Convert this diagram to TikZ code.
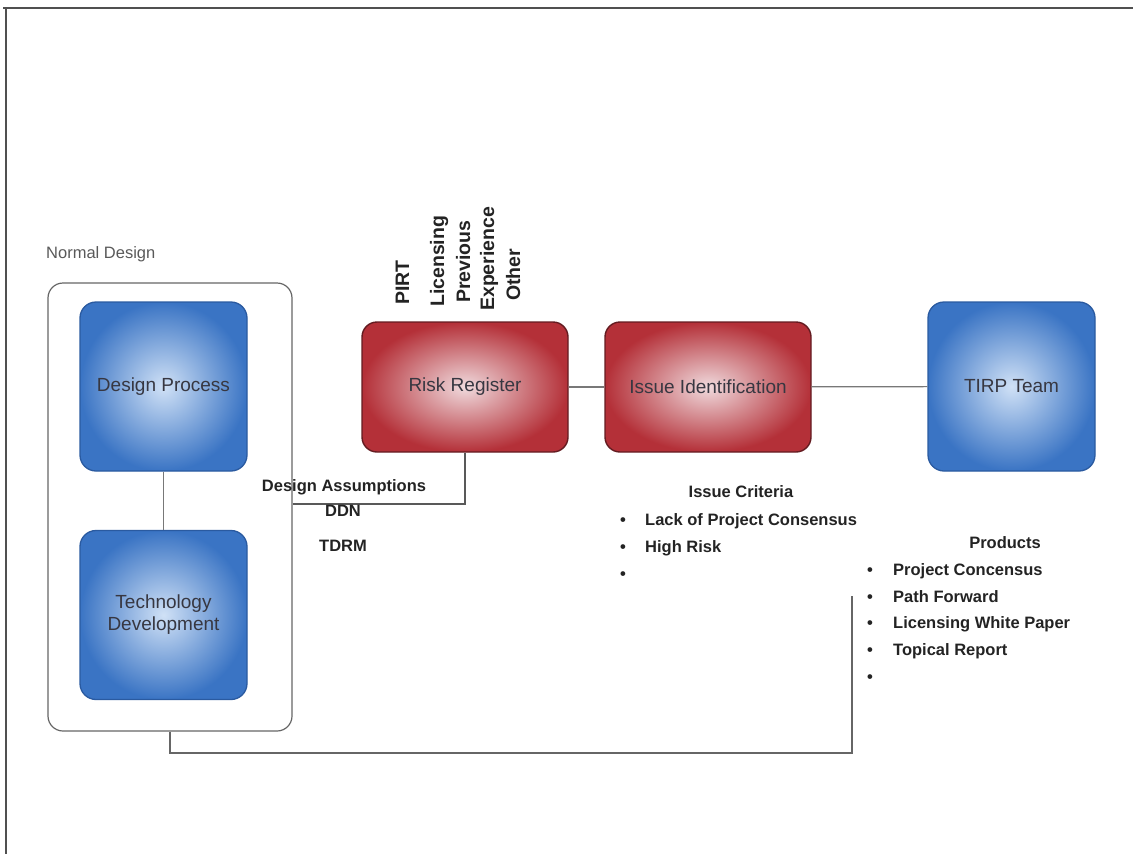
\documentclass[tikz,border=0pt]{standalone}
\usepackage{fontspec}
\setmainfont{Liberation Sans}
\definecolor{bluedge}{RGB}{58,116,196}
\definecolor{bluein}{RGB}{208,225,246}
\definecolor{blueline}{RGB}{42,90,160}
\definecolor{rededge}{RGB}{180,48,56}
\definecolor{redin}{RGB}{240,218,221}
\definecolor{redline}{RGB}{100,28,33}
\definecolor{conn}{RGB}{120,120,120}
\definecolor{frame}{RGB}{80,80,80}
\definecolor{boxtext}{RGB}{55,55,65}
\definecolor{anntext}{RGB}{35,35,35}
\newcommand{\boxfont}{\fontsize{19}{22}\selectfont}
\newcommand{\annfont}{\fontsize{16.5}{20}\selectfont\bfseries}
\newcommand{\rotfont}{\fontsize{19.5}{22}\selectfont\bfseries}
\begin{document}
\begin{tikzpicture}[x=1pt,y=-1pt,
  bluebox/.style={shade, inner color=bluein, outer color=bluedge, draw=blueline, line width=1.3pt,
    rounded corners=16pt, minimum width=167pt, minimum height=169pt, inner sep=0pt,
    font=\boxfont, text=boxtext, align=center},
  redbox/.style={shade, inner color=redin, outer color=rededge, draw=redline, line width=1.4pt,
    rounded corners=15pt, minimum width=206pt, minimum height=130pt, inner sep=0pt,
    font=\boxfont, text=boxtext, align=center},
  groupbox/.style={draw=black!60, line width=1.2pt, rounded corners=15pt, minimum width=244pt,
    minimum height=448pt, inner sep=0pt},
  ann/.style={font=\annfont, text=anntext, inner sep=0pt, anchor=base west},
  anncenter/.style={font=\annfont, text=anntext, inner sep=0pt, anchor=base},
  rotlabel/.style={font=\rotfont, text=anntext, inner sep=0pt, rotate=90, anchor=west,
    text height=14pt, text depth=4pt},
  link/.style={draw=conn, line width=1.2pt},
  framestyle/.style={draw=frame, line width=2pt}
]
\useasboundingbox (0,0) rectangle (1135,854);
% frame
\coordinate (ftl) at (3,8);
\coordinate (ftr) at (1133,8);
\coordinate (fl1) at (6,8);
\coordinate (fl2) at (6,854);
\draw[framestyle] (ftl) -- (ftr);
\draw[framestyle] (fl1) -- (fl2);

% group
\node[font=\fontsize{16.5}{20}\selectfont, text=black!65, inner sep=0pt, anchor=base west] (ndlabel) at (46,258) {Normal Design};
\node[groupbox] (nd) at (170,507) {};
\node[bluebox] (dp) at (163.5,386.5) {Design Process};
\node[bluebox] (td) at (163.5,615) {Technology\\Development};
\draw[link] (dp) -- (td);

% main chain
\node[redbox] (rr) at (465,387) {Risk Register};
\node[redbox] (ii) at (708,387) {Issue Identification};
\node[bluebox] (tirp) at (1011.5,386.5) {TIRP Team};
\draw[link] (rr) -- (ii);
\draw[link] (ii) -- (tirp);

% rotated inputs
\node[rotlabel] (pirt) at (404,305) {PIRT};
\node[rotlabel] (lic) at (439,307) {Licensing};
\node[rotlabel] (prev) at (465,303) {Previous};
\node[rotlabel] (exp) at (489,311) {Experience};
\node[rotlabel] (oth) at (515,301) {Other};

% design assumptions
\coordinate (da) at (465,504);
\draw[link, draw=black!65] (nd.east |- da) -- (da) -- (rr.south);
\node[anncenter] (dalab) at (344,491) {Design Assumptions};
\node[anncenter] (ddn) at (343,516) {DDN};
\node[anncenter] (tdrm) at (343,551) {TDRM};

% issue criteria
\node[anncenter] (ich) at (741,497) {Issue Criteria};
\node[anncenter] (icb1) at (623,525) {\textbullet};
\node[ann] (ic1) at (645,525) {Lack of Project Consensus};
\node[anncenter] (icb2) at (623,552) {\textbullet};
\node[ann] (ic2) at (645,552) {High Risk};
\node[anncenter] (icb3) at (623,579) {\textbullet};

% products
\node[anncenter] (prh) at (1005,548) {Products};
\node[anncenter] (prb1) at (870,575) {\textbullet};
\node[ann] (pr1) at (893,575) {Project Concensus};
\node[anncenter] (prb2) at (870,602) {\textbullet};
\node[ann] (pr2) at (893,602) {Path Forward};
\node[anncenter] (prb3) at (870,628) {\textbullet};
\node[ann] (pr3) at (893,628) {Licensing White Paper};
\node[anncenter] (prb4) at (870,655) {\textbullet};
\node[ann] (pr4) at (893,655) {Topical Report};
\node[anncenter] (prb5) at (870,682) {\textbullet};

% feedback loop
\coordinate (pb) at (852,753);
\coordinate (pe) at (852,596);
\draw[link, draw=black!60] (nd.south) |- (pb) -- (pe);
\end{tikzpicture}
\end{document}
